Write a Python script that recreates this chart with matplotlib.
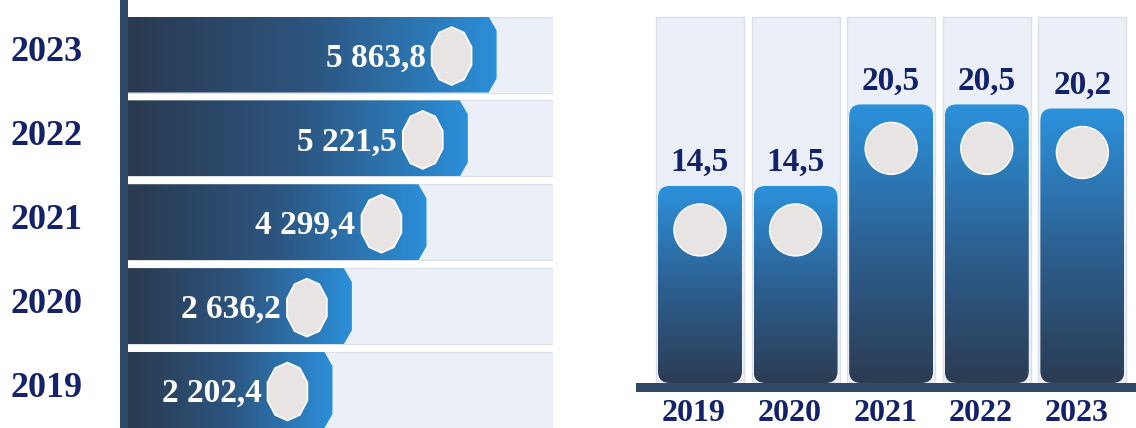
import numpy as np
import matplotlib.pyplot as plt
from matplotlib.colors import LinearSegmentedColormap
from matplotlib.patches import Polygon, Rectangle, FancyBboxPatch, Ellipse
import matplotlib.transforms as mtransforms

# données
years = ['2019', '2020', '2021', '2022', '2023']
left_values = [2202.4, 2636.2, 4299.4, 5221.5, 5863.8]
left_labels = ['2 202,4', '2 636,2', '4 299,4', '5 221,5', '5 863,8']
right_values = [14.5, 14.5, 20.5, 20.5, 20.2]
right_labels = ['14,5', '14,5', '20,5', '20,5', '20,2']

W, H = 1136, 428
NAVY = '#14226a'
AXIS = '#2e4a68'
TRACK = '#ebf0f8'
TRACK_EDGE = '#dbe0e8'
DOT = '#e8e4e4'
SERIF = 'Liberation Serif'

grad_h = LinearSegmentedColormap.from_list('h', ['#2a3a4f', '#2d5580', '#2b8fd9'])
grad_v = LinearSegmentedColormap.from_list('v', ['#2b3c53', '#2d6193', '#2b92dc'])

fig = plt.figure(figsize=(W / 100, H / 100), dpi=100)
fig.patch.set_facecolor('white')

# trait vertical de gauche
fig.add_artist(Rectangle((120 / W, 0), 8 / W, 1, transform=fig.transFigure,
                         fc=AXIS, ec='none'))

# ---- panneau gauche : barres horizontales ----
ax = fig.add_axes([128 / W, 0, 425 / W, 1])
x0, x1 = -2358, 7122          # départ décalé : les barres courtes gardent leur étiquette
y0, y1 = -0.453, 4.650
ux = (x1 - x0) / 425          # unités par pixel
uy = (y1 - y0) / H
row_h = 76 * uy
grad = np.linspace(0, 1, 256).reshape(1, -1)
ytrans = mtransforms.blended_transform_factory(ax.transAxes, ax.transData)

for i, (v, lab) in enumerate(zip(left_values, left_labels)):
    bot, top = i - row_h / 2, i + row_h / 2
    ax.add_patch(Rectangle((x0, bot), x1 - x0, row_h, fc=TRACK, ec=TRACK_EDGE,
                           lw=0.8, zorder=1))
    cx, cy = 8 * ux, 14 * uy
    shape = Polygon([(x0, bot), (v - cx, bot), (v, bot + cy), (v, top - cy),
                     (v - cx, top), (x0, top)], closed=True, fc='none', ec='none')
    ax.add_patch(shape)
    im = ax.imshow(grad, cmap=grad_h, extent=(x0, v, bot, top), aspect='auto',
                   zorder=2, interpolation='bilinear')
    im.set_clip_path(shape)
    # décagone clair
    ocx = v - 45 * ux
    ang = np.deg2rad(90 + 36 * np.arange(10))
    pts = np.column_stack([ocx + 21 * ux * np.cos(ang),
                           i - 1.5 * uy + 29 * uy * np.sin(ang)])
    ax.add_patch(Polygon(pts, closed=True, fc=DOT, ec='white', lw=1.2, zorder=3))
    ax.text(ocx - 26 * ux, i, lab, ha='right', va='center_baseline', color='white',
            fontsize=24, fontweight='bold', family=SERIF, zorder=4)
    ax.text(-(128 - 47) / 425, i + 6 * uy, years[i], transform=ytrans,
            ha='center', va='center_baseline', color=NAVY, fontsize=26,
            fontweight='bold', family=SERIF)

ax.set_xlim(x0, x1)
ax.set_ylim(y0, y1)
ax.axis('off')

# ---- panneau droit : colonnes ----
bx = fig.add_axes([636 / W, 0, 500 / W, 1])
xl0, xl1 = -0.669, 4.561
s = 13.59                      # pixels par unité
yl0, yl1 = -(H - 383) / s, 383 / s
px = (xl1 - xl0) / 500
py = 1 / s
track_top = (383 - 17) / s
grad_col = np.linspace(0, 1, 256).reshape(-1, 1)

for i, (v, lab) in enumerate(zip(right_values, right_labels)):
    bx.add_patch(Rectangle((i - 44 * px, 0), 88 * px, track_top, fc=TRACK,
                           ec=TRACK_EDGE, lw=1.0, zorder=1))
    bw = 84 * px
    r = 12 * px
    col = FancyBboxPatch((i - bw / 2 + r, 12 * py), bw - 2 * r, v - 24 * py,
                         boxstyle=f'round,pad={r}', mutation_aspect=(py / px),
                         fc='none', ec='none')
    bx.add_patch(col)
    im = bx.imshow(grad_col, cmap=grad_v, origin='lower',
                   extent=(i - bw / 2, i + bw / 2, 0, v), aspect='auto',
                   zorder=2, interpolation='bilinear')
    im.set_clip_path(col)
    bx.add_patch(Ellipse((i, v - 44 * py), 52 * px, 52 * py, fc=DOT, ec='white',
                         lw=1.0, zorder=3))
    bx.text(i, v + 27 * py, lab, ha='center', va='center_baseline', color=NAVY,
            fontsize=24, fontweight='bold', family=SERIF, zorder=4)
    bx.text(i - 6 * px, -(410 - 383) / s, years[i], ha='center', va='center_baseline',
            color=NAVY, fontsize=23, fontweight='bold', family=SERIF)

# socle
bx.add_patch(Rectangle((xl0, -9 * py), xl1 - xl0, 9 * py, fc=AXIS, ec='none', zorder=5))

bx.set_xlim(xl0, xl1)
bx.set_ylim(yl0, yl1)
bx.axis('off')

fig.savefig('out.png', dpi=100)
